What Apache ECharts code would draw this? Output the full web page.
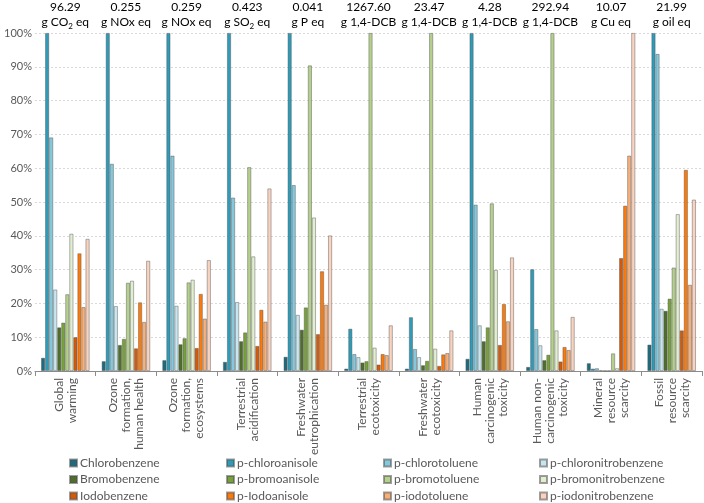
<!DOCTYPE html>
<html>
<head>
<meta charset="utf-8">
<script src="https://cdn.jsdelivr.net/npm/echarts@6/dist/echarts.min.js"></script>
<style>html,body{margin:0;padding:0;background:#fff;}#c{width:704px;height:503px;}</style>
</head>
<body>
<div id="c"></div>
<script>
const categories = [
  'Global\nwarming',
  'Ozone\nformation,\nhuman health',
  'Ozone\nformation,\necosystems',
  'Terrestrial\nacidification',
  'Freshwater\neutrophication',
  'Terrestrial\necotoxicity',
  'Freshwater\necotoxicity',
  'Human\ncarcinogenic\ntoxicity',
  'Human non-\ncarcinogenic\ntoxicity',
  'Mineral\nresource\nscarcity',
  'Fossil\nresource\nscarcity'
];
const headerValues = ['96.29','0.255','0.259','0.423','0.041','1267.60','23.47','4.28','292.94','10.07','21.99'];
const headerUnits = ['g CO{s|2} eq','g NOx eq','g NOx eq','g SO{s|2} eq','g P eq','g 1,4-DCB','g 1,4-DCB','g 1,4-DCB','g 1,4-DCB','g Cu eq','g oil eq'];
const yTicks = [0,10,20,30,40,50,60,70,80,90,100];

const chlorobenzene       = [3.9, 2.9, 3.2, 2.7, 4.2, 0.7, 0.7, 3.6, 1.2, 2.3, 7.8];
const pChloroanisole      = [100, 100, 100, 100, 100, 12.5, 15.9, 100, 30.1, 0.7, 100];
const pChlorotoluene      = [69.1, 61.3, 63.7, 51.3, 55.0, 5.0, 6.5, 49.2, 12.4, 0.8, 93.8];
const pChloronitrobenzene = [24.1, 19.2, 19.3, 20.4, 16.6, 4.1, 4.1, 13.5, 7.6, 0.2, 18.4];
const bromobenzene        = [12.9, 7.7, 7.9, 8.8, 12.2, 2.5, 1.7, 8.8, 3.2, 0.1, 17.8];
const pBromoanisole       = [14.3, 9.5, 9.7, 11.4, 18.8, 2.9, 3.0, 12.9, 4.8, 0.1, 21.4];
const pBromotoluene       = [22.7, 26.1, 26.2, 60.3, 90.4, 100, 100, 49.6, 100, 5.2, 30.6];
const pBromonitrobenzene  = [40.6, 26.7, 27.0, 33.9, 45.4, 6.9, 6.6, 29.9, 12.0, 0.8, 46.4];
const iodobenzene         = [10.0, 6.7, 6.8, 7.4, 10.9, 1.9, 1.5, 7.7, 2.8, 33.4, 12.0];
const pIodoanisole        = [34.8, 20.3, 22.8, 18.1, 29.5, 5.0, 4.9, 19.8, 7.1, 48.9, 59.5];
const pIodotoluene        = [18.9, 14.5, 15.5, 14.6, 19.6, 4.7, 5.3, 14.7, 6.2, 63.7, 25.5];
const pIodonitrobenzene   = [39.1, 32.6, 32.8, 54.0, 40.1, 13.5, 12.0, 33.6, 16.0, 100, 50.7];

const seriesDefs = [
  ['Chlorobenzene', chlorobenzene, '#1f6b7d'],
  ['p-chloroanisole', pChloroanisole, '#2f9bb8'],
  ['p-chlorotoluene', pChlorotoluene, '#86c8db'],
  ['p-chloronitrobenzene', pChloronitrobenzene, '#c8e6ef'],
  ['Bromobenzene', bromobenzene, '#4f6e2a'],
  ['p-bromoanisole', pBromoanisole, '#77a13b'],
  ['p-bromotoluene', pBromotoluene, '#b5d08c'],
  ['p-bromonitrobenzene', pBromonitrobenzene, '#e2eed0'],
  ['Iodobenzene', iodobenzene, '#d45a0a'],
  ['p-Iodoanisole', pIodoanisole, '#fb7a0b'],
  ['p-iodotoluene', pIodotoluene, '#f8b07a'],
  ['p-iodonitrobenzene', pIodonitrobenzene, '#f9d3bf']
];

const FONT = 'Lato';
const legendCols = [[0,4,8],[1,5,9],[2,6,10],[3,7,11]];
const legendLeft = [69, 226, 383, 539];

const chart = echarts.init(document.getElementById('c'), null, {renderer: 'canvas'});
chart.setOption({
  animation: false,
  backgroundColor: '#fff',
  textStyle: {fontFamily: FONT},
  grid: {left: 35, right: 2, top: 30, height: 341},
  legend: legendCols.map((col, i) => ({
    orient: 'vertical',
    left: legendLeft[i],
    top: 457,
    height: 46,
    padding: 0,
    itemWidth: 7,
    itemHeight: 7,
    itemGap: 4.5,
    icon: 'rect',
    textStyle: {fontFamily: FONT, fontSize: 12, lineHeight: 12, color: '#595959', padding: [0,0,0,-2]},
    data: col.map(k => seriesDefs[k][0])
  })),
  xAxis: [
    {
      type: 'category',
      data: categories,
      position: 'bottom',
      axisLine: {lineStyle: {color: '#8c8c8c', width: 1}},
      axisTick: {show: true, length: 5, lineStyle: {color: '#8c8c8c'}},
      axisLabel: {rotate: 90, margin: 7, fontSize: 12, lineHeight: 13, color: '#595959', fontFamily: FONT, interval: 0}
    },
    {
      type: 'category',
      data: headerValues.map((v, i) => v + '\n' + headerUnits[i]),
      position: 'top',
      axisLine: {show: false},
      axisTick: {show: false},
      axisLabel: {
        interval: 0, margin: 3, fontSize: 12, lineHeight: 15, color: '#000', fontFamily: FONT,
        rich: {s: {fontSize: 8, fontFamily: FONT, color: '#000', verticalAlign: 'bottom', lineHeight: 15, padding: [6,0,0,0]}}
      }
    }
  ],
  yAxis: {
    type: 'value',
    min: 0, max: 100, interval: 10,
    axisLine: {show: false},
    axisTick: {show: false},
    axisLabel: {formatter: v => yTicks.includes(v) ? v + '%' : '', fontSize: 11, color: '#595959', margin: 3, fontFamily: FONT},
    splitLine: {lineStyle: {color: '#d9d9d9', type: [2, 2], width: 1}}
  },
  series: seriesDefs.map(([name, data, color]) => ({
    name, type: 'bar', data, xAxisIndex: 0,
    barGap: 0, barCategoryGap: '20%',
    itemStyle: {color, borderColor: 'rgba(80,80,80,0.55)', borderWidth: 0.8}
  }))
});
</script>
</body>
</html>
